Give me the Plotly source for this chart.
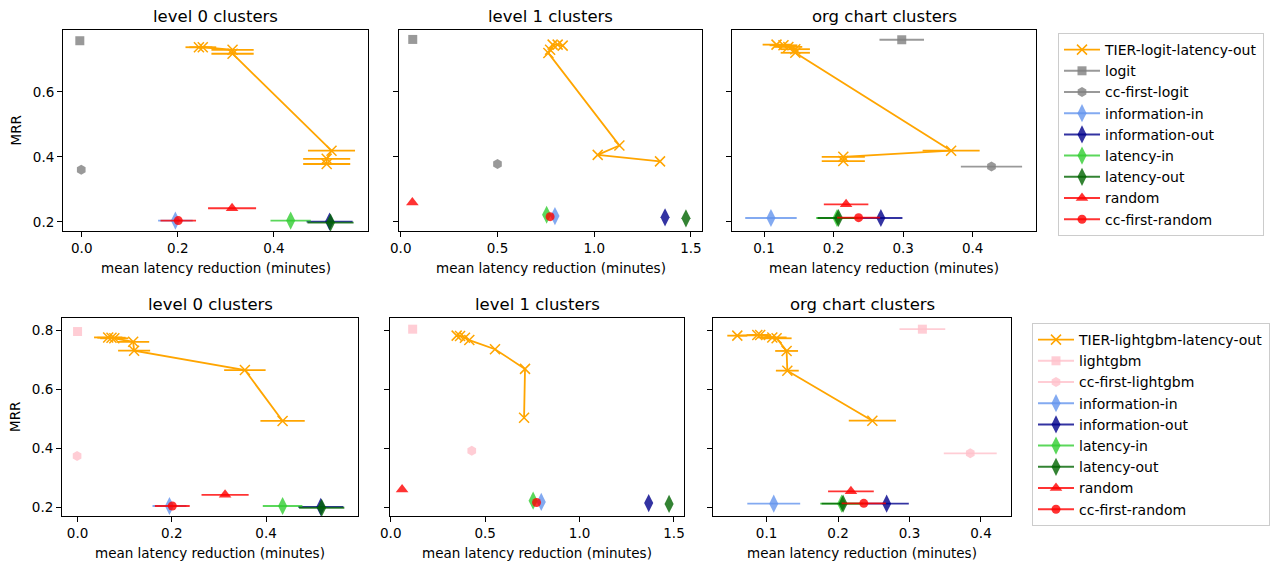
import plotly.graph_objects as go

W, H = 1274, 565

# ---------------- data ----------------
panel_titles = ["level 0 clusters", "level 1 clusters", "org chart clusters"]
x_label = "mean latency reduction (minutes)"
y_label = "MRR"

# TIER curves (top row: logit, bottom row: lightgbm); one list per panel
tier_logit_x = [
    [0.244, 0.252, 0.314, 0.314, 0.520, 0.510, 0.510],
    [0.837, 0.811, 0.785, 0.772, 0.763, 1.130, 1.018, 1.340],
    [0.118, 0.128, 0.135, 0.145, 0.145, 0.369, 0.214, 0.214],
]
tier_logit_y = [
    [0.737, 0.737, 0.729, 0.717, 0.419, 0.394, 0.378],
    [0.742, 0.745, 0.745, 0.729, 0.719, 0.435, 0.406, 0.386],
    [0.745, 0.743, 0.738, 0.731, 0.720, 0.419, 0.400, 0.387],
]
tier_logit_err = [
    [0.028, 0.028, 0.044, 0.044, 0.049, 0.049, 0.049],
    [0, 0, 0, 0, 0, 0, 0, 0],
    [0.020, 0.020, 0.020, 0.021, 0.021, 0.041, 0.031, 0.031],
]
tier_lgbm_x = [
    [0.065, 0.072, 0.078, 0.118, 0.120, 0.355, 0.435],
    [0.349, 0.367, 0.393, 0.416, 0.552, 0.711, 0.706],
    [0.059, 0.087, 0.091, 0.108, 0.114, 0.128, 0.129, 0.248],
]
tier_lgbm_y = [
    [0.777, 0.776, 0.774, 0.762, 0.732, 0.666, 0.493],
    [0.783, 0.782, 0.776, 0.768, 0.737, 0.670, 0.504],
    [0.783, 0.785, 0.785, 0.777, 0.774, 0.731, 0.664, 0.494],
]
tier_lgbm_err = [
    [0.030, 0.030, 0.030, 0.034, 0.034, 0.044, 0.047],
    [0, 0, 0, 0, 0, 0, 0],
    [0.014, 0.015, 0.015, 0.020, 0.021, 0.016, 0.016, 0.033],
]

# baselines: one value per panel (level 0, level 1, org chart)
logit_x = [-0.004, 0.062, 0.298]
logit_y = [0.757, 0.761, 0.760]
logit_err = [0.0, 0.0, 0.032]
cc_first_logit_x = [-0.001, 0.500, 0.427]
cc_first_logit_y = [0.360, 0.378, 0.370]
cc_first_logit_err = [0.0, 0.0, 0.044]
lightgbm_x = [0.000, 0.116, 0.318]
lightgbm_y = [0.797, 0.805, 0.805]
lightgbm_err = [0.0, 0.0, 0.032]
cc_first_lightgbm_x = [-0.001, 0.429, 0.385]
cc_first_lightgbm_y = [0.374, 0.392, 0.383]
cc_first_lightgbm_err = [0.0, 0.0, 0.037]
info_in_x = [0.195, 0.797, 0.110]
info_in_y = [0.204, 0.218, 0.212]
info_in_err = [0.036, 0.0, 0.037]
info_out_x = [0.516, 1.366, 0.268]
info_out_y = [0.201, 0.214, 0.212]
info_out_err = [0.048, 0.0, 0.031]
lat_in_x = [0.435, 0.754, 0.205]
lat_in_y = [0.204, 0.222, 0.212]
lat_in_err = [0.042, 0.0, 0.030]
lat_out_x = [0.518, 1.474, 0.207]
lat_out_y = [0.198, 0.211, 0.212]
lat_out_err = [0.048, 0.0, 0.030]
random_x = [0.313, 0.060, 0.218]
random_y = [0.242, 0.260, 0.254]
random_err = [0.050, 0.0, 0.032]
cc_random_x = [0.201, 0.772, 0.236]
cc_random_y = [0.204, 0.216, 0.213]
cc_random_err = [0.037, 0.0, 0.031]

# ---------------- layout geometry (pixels) ----------------
top_x_px = [(63, 368), (399, 702), (732, 1036)]
bot_x_px = [(62, 358), (390, 684), (713, 1011)]
top_y_px = (30, 231)
bot_y_px = (318, 516)
top_xr = [[-0.039, 0.596], [-0.009, 1.557], [0.054, 0.491]]
bot_xr = [[-0.033, 0.595], [-0.004, 1.553], [0.025, 0.442]]
top_yr = [0.172, 0.790]
bot_yr = [0.170, 0.843]

FONT = "DejaVu Sans"
fig = go.Figure()


def baseline_specs(row):
    first = (
        [("logit", logit_x, logit_y, logit_err, "rgba(128,128,128,0.8)", "square", 9),
         ("cc-first-logit", cc_first_logit_x, cc_first_logit_y, cc_first_logit_err, "rgba(128,128,128,0.8)", "hexagon", 10)]
        if row == 0 else
        [("lightgbm", lightgbm_x, lightgbm_y, lightgbm_err, "rgba(255,192,203,0.8)", "square", 9),
         ("cc-first-lightgbm", cc_first_lightgbm_x, cc_first_lightgbm_y, cc_first_lightgbm_err, "rgba(255,192,203,0.8)", "hexagon", 10)]
    )
    return first + [
        ("information-in", info_in_x, info_in_y, info_in_err, "rgba(100,149,237,0.8)", "diamond-tall", 13),
        ("information-out", info_out_x, info_out_y, info_out_err, "rgba(0,0,139,0.8)", "diamond-tall", 13),
        ("latency-in", lat_in_x, lat_in_y, lat_in_err, "rgba(50,205,50,0.8)", "diamond-tall", 13),
        ("latency-out", lat_out_x, lat_out_y, lat_out_err, "rgba(0,100,0,0.8)", "diamond-tall", 13),
        ("random", random_x, random_y, random_err, "rgba(255,0,0,0.8)", "triangle-up", 11),
        ("cc-first-random", cc_random_x, cc_random_y, cc_random_err, "rgba(255,0,0,0.8)", "circle", 9),
    ]


for row in range(2):
    xs_px = top_x_px if row == 0 else bot_x_px
    y_px = top_y_px if row == 0 else bot_y_px
    xr = top_xr if row == 0 else bot_xr
    yr = top_yr if row == 0 else bot_yr
    legend_name = "legend" if row == 0 else "legend2"
    tier_name = "TIER-logit-latency-out" if row == 0 else "TIER-lightgbm-latency-out"
    tx = tier_logit_x if row == 0 else tier_lgbm_x
    ty = tier_logit_y if row == 0 else tier_lgbm_y
    te = tier_logit_err if row == 0 else tier_lgbm_err
    for col in range(3):
        k = row * 3 + col + 1
        xa = "x" if k == 1 else f"x{k}"
        ya = "y" if k == 1 else f"y{k}"
        fig.add_trace(go.Scatter(
            x=tx[col], y=ty[col], mode="lines+markers", name=tier_name,
            xaxis=xa, yaxis=ya, legend=legend_name, showlegend=(col == 0),
            line=dict(color="orange", width=1.8),
            marker=dict(symbol="x-thin", size=10, color="orange",
                        line=dict(width=1.5, color="orange")),
            error_x=dict(type="data", array=te[col], color="orange", thickness=1.8, width=0),
        ))
        for name, bx, by, be, color, sym, size in baseline_specs(row):
            fig.add_trace(go.Scatter(
                x=[bx[col]], y=[by[col]], mode="lines+markers", name=name,
                xaxis=xa, yaxis=ya, legend=legend_name, showlegend=(col == 0),
                line=dict(color=color, width=2),
                marker=dict(symbol=sym, size=size, color=color, line=dict(width=0)),
                error_x=dict(type="data", array=[be[col]], color=color, thickness=1.8, width=0),
            ))
        axis_common = dict(showline=True, linecolor="black", linewidth=1, mirror=True,
                           ticks="outside", ticklen=5, tickwidth=1, tickcolor="black",
                           showgrid=False, zeroline=False, automargin=False,
                           tickformat=".1f",
                           tickfont=dict(family=FONT, size=13.5, color="black"))
        xkey = "xaxis" if k == 1 else f"xaxis{k}"
        ykey = "yaxis" if k == 1 else f"yaxis{k}"
        fig.layout[xkey] = dict(
            domain=[xs_px[col][0] / W, xs_px[col][1] / W], range=xr[col], anchor=ya,
            tick0=0, dtick=(0.5 if col == 1 else (0.2 if col == 0 else 0.1)), **axis_common)
        fig.layout[ykey] = dict(
            domain=[1 - y_px[1] / H, 1 - y_px[0] / H], range=yr, anchor=xa,
            dtick=0.2, tick0=0.2, showticklabels=(col == 0), **axis_common)
        # title and x label
        cx = (xs_px[col][0] + xs_px[col][1]) / 2 / W
        fig.add_annotation(text=panel_titles[col], x=cx, y=1 - (y_px[0] - 14) / H,
                           xref="paper", yref="paper", showarrow=False,
                           xanchor="center", yanchor="middle",
                           font=dict(family=FONT, size=16.5, color="black"))
        fig.add_annotation(text=x_label, x=cx, y=1 - (y_px[1] + 37) / H,
                           xref="paper", yref="paper", showarrow=False,
                           xanchor="center", yanchor="middle",
                           font=dict(family=FONT, size=13.5, color="black"))
    fig.add_annotation(text=y_label, x=15 / W, y=1 - ((y_px[0] + y_px[1]) / 2) / H,
                       xref="paper", yref="paper", showarrow=False, textangle=-90,
                       xanchor="center", yanchor="middle",
                       font=dict(family=FONT, size=13.5, color="black"))

legend_common = dict(xanchor="left", yanchor="top", bgcolor="white",
                     bordercolor="#cccccc", borderwidth=1, itemwidth=36,
                     font=dict(family=FONT, size=14, color="black"))
fig.update_layout(
    width=W, height=H, margin=dict(l=0, r=0, t=0, b=0),
    paper_bgcolor="white", plot_bgcolor="white",
    legend=dict(x=1058 / W, y=1 - 33 / H, **legend_common),
    legend2=dict(x=1032 / W, y=1 - 323 / H, **legend_common),
)
fig.write_html("out.html", config={"displayModeBar": False},
               post_script="document.body.style.margin='0';document.body.style.padding='0';")
